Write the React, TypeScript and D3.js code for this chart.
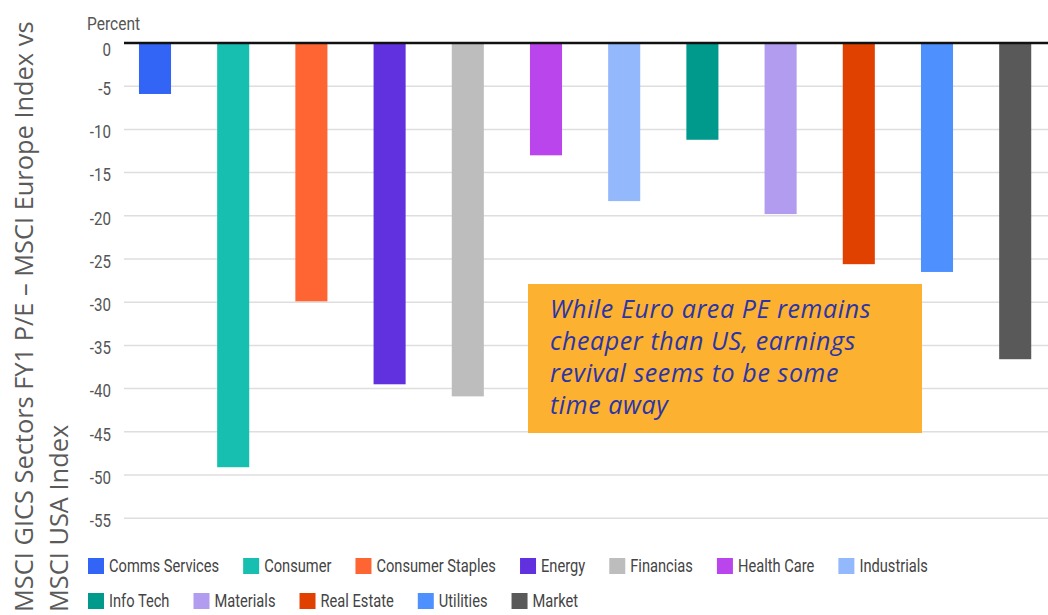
import React, { useEffect, useRef } from "react";
import * as d3 from "d3";

const categories = [
  "Comms Services", "Consumer", "Consumer Staples", "Energy", "Financias", "Health Care",
  "Industrials", "Info Tech", "Materials", "Real Estate", "Utilities", "Market",
];
const values = [-5.9, -49.1, -29.9, -39.5, -40.9, -13.0, -18.3, -11.2, -19.8, -25.6, -26.5, -36.6];
const colors = [
  "#3264F5", "#17BFB0", "#FF6433", "#6131E0", "#BDBDBD", "#BB45EC",
  "#93B8FC", "#009A8C", "#B19CF0", "#E04100", "#4F90FF", "#595959",
];
const yTicks = [0, -5, -10, -15, -20, -25, -30, -35, -40, -45, -50, -55];
const yTitleLines = ["MSCI GICS Sectors FY1 P/E \u2013 MSCI Europe Index vs", "MSCI USA Index"];
const annotationLines = [
  "While Euro area PE remains",
  "cheaper than US, earnings",
  "revival seems to be some",
  "time away",
];
const unitLabel = "Percent";

const W = 1048;
const H = 615;
const NARROW = "Roboto, sans-serif";
const SX = 0.84;
const LSX = 0.815;

export default function App() {
  const ref = useRef<SVGSVGElement | null>(null);

  useEffect(() => {
    const svg = d3.select(ref.current);
    svg.selectAll("*").remove();

    const y = d3.scaleLinear().domain([-55, 0]).range([518.2, 43]);
    const x = d3
      .scaleBand<string>()
      .domain(categories)
      .range([115.9, 1054.3])
      .paddingInner(0.59)
      .paddingOuter(0.295);

    svg.append("rect").attr("width", W).attr("height", H).attr("fill", "#fff");

    const plotLeft = 124;
    svg
      .append("g")
      .selectAll("line")
      .data(yTicks.filter((t) => t !== 0))
      .join("line")
      .attr("x1", plotLeft)
      .attr("x2", W)
      .attr("y1", (d) => y(d))
      .attr("y2", (d) => y(d))
      .attr("stroke", "#dedede")
      .attr("stroke-width", 1.5);

    svg
      .append("g")
      .selectAll("text")
      .data(yTicks)
      .join("text")
      .attr("transform", (d) => `translate(111,${y(d) + (d === 0 ? 8 : 4)}) scale(${SX},1)`)
      .attr("dominant-baseline", "middle")
      .attr("text-anchor", "end")
      .attr("font-family", NARROW)
      .attr("font-size", 18)
      .attr("fill", "#555")
      .text((d) => String(d));

    svg
      .append("text")
      .attr("transform", `translate(87,30) scale(${SX},1)`)
      .attr("font-family", NARROW)
      .attr("font-size", 18.5)
      .attr("fill", "#555")
      .text(unitLabel);

    svg
      .append("g")
      .selectAll("rect")
      .data(categories)
      .join("rect")
      .attr("x", (d) => x(d)!)
      .attr("width", x.bandwidth())
      .attr("y", y(0))
      .attr("height", (d, i) => y(values[i]) - y(0))
      .attr("fill", (d, i) => colors[i]);

    svg
      .append("line")
      .attr("x1", plotLeft)
      .attr("x2", W)
      .attr("y1", y(0))
      .attr("y2", y(0))
      .attr("stroke", "#111")
      .attr("stroke-width", 2.5);

    const box = svg.append("g");
    box
      .append("rect")
      .attr("x", 528)
      .attr("y", 284)
      .attr("width", 394)
      .attr("height", 149)
      .attr("fill", "#FDB130");
    box
      .selectAll("text")
      .data(annotationLines)
      .join("text")
      .attr("x", 550)
      .attr("y", (d, i) => 318 + i * 32)
      .attr("font-family", "'Open Sans', sans-serif")
      .attr("font-style", "italic")
      .attr("font-size", 25)
      .attr("letter-spacing", 0.6)
      .attr("fill", "#2B35A8")
      .text((d) => d);

    svg
      .append("g")
      .selectAll("text")
      .data(yTitleLines)
      .join("text")
      .attr("transform", (d, i) => `translate(${33 + i * 35},612) rotate(-90)`)
      .attr("font-family", "'Open Sans', sans-serif")
      .attr("font-size", 25.4)
      .attr("fill", "#5a5a5a")
      .text((d) => d);

    const legend = svg.append("g");
    let lx = 88;
    let row = 0;
    const rowY = [566, 601];
    const maxX = 1000;
    categories.forEach((c, i) => {
      const g = legend.append("g");
      const t = g
        .append("text")
        .attr("font-family", NARROW)
        .attr("font-size", 18)
        .attr("fill", "#444")
        .attr("dominant-baseline", "middle")
        .text(c);
      const tw = (t.node() as SVGTextElement).getComputedTextLength() * LSX;
      const itemW = 21 + tw;
      if (lx + itemW > maxX) {
        row += 1;
        lx = 88;
      }
      const cy = rowY[row];
      g.append("rect")
        .attr("x", lx)
        .attr("y", cy - 8)
        .attr("width", 16)
        .attr("height", 16)
        .attr("fill", colors[i]);
      t.attr("transform", `translate(${lx + 21},${cy + 1}) scale(${LSX},1)`);
      lx += itemW + 24;
    });
  }, []);

  return (
    <svg
      ref={ref}
      width={W}
      height={H}
      style={{ position: "absolute", left: 0, top: 0, display: "block" }}
    />
  );
}
